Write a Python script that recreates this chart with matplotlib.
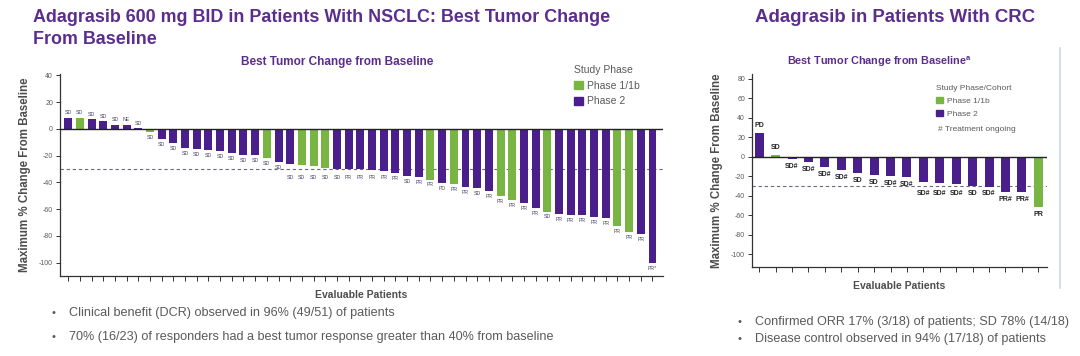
import matplotlib
matplotlib.use("Agg")
import matplotlib.pyplot as plt
from matplotlib.patches import Patch
from matplotlib.lines import Line2D
import numpy as np

plt.rcParams['font.family'] = ['Liberation Sans', 'DejaVu Sans']
plt.rcParams['axes.unicode_minus'] = False

# ---------------- data ----------------
nsclc_values = [8.4, 8.4, 7.0, 5.5, 3.0, 3.0, 0.5, -2.5, -7.5, -10.7, -14.2, -15.0,
                -15.8, -16.5, -18.0, -19.3, -19.8, -21.8, -25.0, -26.0, -27.3, -27.8,
                -29.3, -29.8, -30.0, -30.2, -30.5, -31.8, -33.3, -35.1, -36.1, -37.9,
                -40.5, -41.5, -43.3, -44.0, -46.8, -49.9, -53.4, -55.5, -59.3, -61.8,
                -63.4, -64.1, -64.6, -65.9, -66.9, -72.5, -77.4, -78.4, -100.0]
nsclc_phase = ['2', '1', '2', '2', '2', '2', '2', '1', '2', '2', '2', '2',
               '2', '2', '2', '2', '2', '1', '2', '2', '1', '1',
               '1', '2', '2', '2', '2', '2', '2', '2', '2', '1',
               '2', '1', '2', '2', '2', '1', '1', '2', '2', '1',
               '2', '2', '2', '2', '2', '1', '1', '2', '2']
nsclc_resp = ['SD', 'SD', 'SD', 'SD', 'SD', 'NE', 'SD', 'SD', 'SD', 'SD', 'SD', 'SD',
              'SD', 'SD', 'SD', 'SD', 'SD', 'SD', 'SD', 'SD', 'SD', 'SD',
              'SD', 'SD', 'PR', 'PR', 'PR', 'PR', 'PR', 'SD', 'PR', 'PR',
              'PD', 'PR', 'PR', 'SD', 'PR', 'PR', 'PR', 'PR', 'PR', 'SD',
              'PR', 'PR', 'PR', 'PR', 'PR', 'PR', 'PR', 'PR', 'PR*']

crc_values = [24.8, 2.4, -2.4, -5.1, -10.5, -14.0, -16.3, -19.0, -19.4, -21.0,
              -25.9, -26.9, -28.2, -29.6, -31.0, -36.4, -36.4, -51.7]
crc_phase = ['2', '1', '2', '2', '2', '2', '2', '2', '2', '2',
             '2', '2', '2', '2', '2', '2', '2', '1']
crc_resp = ['PD', 'SD', 'SD#', 'SD#', 'SD#', 'SD#', 'SD', 'SD', 'SD#', 'SD#',
            'SD#', 'SD#', 'SD#', 'SD', 'SD#', 'PR#', 'PR#', 'PR']

y_ticks_nsclc = [40, 20, 0, -20, -40, -60, -80, -100]
y_ticks_crc = [80, 60, 40, 20, 0, -20, -40, -60, -80, -100]
threshold = -30

# ---------------- styles ----------------
PURPLE = '#4a1f8c'
GREEN = '#79b543'
TITLE = '#5b2d8e'
GRAY = '#5a5a5a'
AXC = '#333333'
phase_color = {'1': GREEN, '2': PURPLE}

W, H = 1080, 356
fig = plt.figure(figsize=(W / 100, H / 100), dpi=100)


def fx(px):
    return px / W


def fy(py):
    return 1 - py / H


def style_axes(ax, yticks, ylim, xlim, n):
    ax.set_ylim(*ylim)
    ax.set_xlim(*xlim)
    ax.set_yticks(yticks)
    ax.set_xticks(np.arange(n))
    ax.set_xticklabels([])
    for s in ['top', 'right']:
        ax.spines[s].set_visible(False)
    for s in ['left', 'bottom']:
        ax.spines[s].set_color(AXC)
        ax.spines[s].set_linewidth(0.9)
    ax.tick_params(axis='y', labelsize=5, colors=AXC, labelcolor=GRAY, length=3, width=0.7, pad=2)
    ax.tick_params(axis='x', length=3.5, width=0.7, colors=AXC)
    ax.axhline(0, color='#222222', lw=1.0, zorder=3)
    ax.axhline(threshold, color='#6a6a7a', lw=0.8, ls=(0, (3, 2.5)), zorder=1)


# ---------------- left: NSCLC ----------------
axL = fig.add_axes([fx(60), fy(276), fx(663) - fx(60), fy(74) - fy(276)])
xL = np.arange(len(nsclc_values))
axL.bar(xL, nsclc_values, width=0.68, color=[phase_color[p] for p in nsclc_phase], zorder=2)
style_axes(axL, y_ticks_nsclc, (-110, 41), (-0.7, 50.9), len(nsclc_values))
for x, v, r in zip(xL, nsclc_values, nsclc_resp):
    if v >= 0:
        axL.text(x, v + 1.8, r, ha='center', va='bottom', fontsize=3.8, color='#4a4a6a')
    else:
        top = v - 2.2
        if -34.5 < top < -27.5:
            top = -34.5
        axL.text(x, top, r, ha='center', va='top', fontsize=3.8, color='#4a4a6a')
axL.set_ylabel('Maximum % Change From Baseline', fontsize=8.3, fontweight='bold', color='#4d4d4d', labelpad=6)
axL.set_xlabel('Evaluable Patients', fontsize=7.5, fontweight='bold', color='#4d4d4d', labelpad=3)
axL.text(0.46, 1.06, 'Best Tumor Change from Baseline', transform=axL.transAxes, ha='center',
         va='center', fontsize=8.5, fontweight='bold', color=TITLE)
legL = axL.legend(handles=[Patch(color=GREEN, label='Phase 1/1b'), Patch(color=PURPLE, label='Phase 2')],
                  title='Study Phase', loc='upper left', bbox_to_anchor=(0.845, 1.065), frameon=False,
                  fontsize=7.5, title_fontsize=7.5, handlelength=0.9, handleheight=0.9,
                  handletextpad=0.4, labelspacing=0.55, alignment='left', borderaxespad=0)
legL.get_title().set_color(GRAY)
for t in legL.get_texts():
    t.set_color(GRAY)

# ---------------- right: CRC ----------------
axR = fig.add_axes([fx(752), fy(267), fx(1047) - fx(752), fy(74) - fy(267)])
xR = np.arange(len(crc_values))
axR.bar(xR, crc_values, width=0.55, color=[phase_color[p] for p in crc_phase], zorder=2)
style_axes(axR, y_ticks_crc, (-113, 85), (-0.44, 17.53), len(crc_values))
for x, v, r in zip(xR, crc_values, crc_resp):
    if v >= 0:
        axR.text(x, v + 4, r, ha='center', va='bottom', fontsize=5, fontweight='bold', color='#222222')
    else:
        top = v - 4
        if -36 < top < -26:
            top = -34
        axR.text(x, top, r, ha='center', va='top', fontsize=5, fontweight='bold', color='#222222')
axR.set_ylabel('Maximum % Change From Baseline', fontsize=8.3, fontweight='bold', color='#4d4d4d', labelpad=6)
axR.set_xlabel('Evaluable Patients', fontsize=7.5, fontweight='bold', color='#4d4d4d', labelpad=3)
axR.text(0.43, 1.062, 'Best Tumor Change from Baseline$^{\\mathregular{a}}$', transform=axR.transAxes,
         ha='center', va='center', fontsize=7.8, fontweight='bold', color=TITLE)
legR = axR.legend(handles=[Patch(color=GREEN, label='Phase 1/1b'), Patch(color=PURPLE, label='Phase 2')],
                  title='Study Phase/Cohort', loc='upper left', bbox_to_anchor=(0.614, 0.958), frameon=False,
                  fontsize=6, title_fontsize=6, handlelength=0.8, handleheight=0.8,
                  handletextpad=0.5, labelspacing=0.55, alignment='left', borderaxespad=0)
legR.get_title().set_color(GRAY)
for t in legR.get_texts():
    t.set_color(GRAY)
fig.text(fx(938), fy(129), '# Treatment ongoing', fontsize=6, color=GRAY, ha='left', va='center')

# ---------------- titles ----------------
fig.text(fx(33), fy(18), 'Adagrasib 600 mg BID in Patients With NSCLC: Best Tumor Change',
         fontsize=12.9, fontweight='bold', color=TITLE, ha='left', va='center')
fig.text(fx(33), fy(40), 'From Baseline', fontsize=12.9, fontweight='bold', color=TITLE, ha='left', va='center')
fig.text(fx(755), fy(18), 'Adagrasib in Patients With CRC', fontsize=13.4, fontweight='bold',
         color=TITLE, ha='left', va='center')

# separator
fig.add_artist(Line2D([fx(1060), fx(1060)], [fy(48), fy(288)], transform=fig.transFigure,
                      color='#cdd7e4', lw=1.2))

# ---------------- bullets ----------------
bul_font = ['Liberation Sans Narrow', 'Liberation Sans', 'DejaVu Sans']
bullets = [
    (52, 313, 'Clinical benefit (DCR) observed in 96% (49/51) of patients'),
    (52, 337, '70% (16/23) of responders had a best tumor response greater than 40% from baseline'),
    (738, 322, 'Confirmed ORR 17% (3/18) of patients; SD 78% (14/18)'),
    (738, 339, 'Disease control observed in 94% (17/18) of patients'),
]
for bx, by, txt in bullets:
    fig.text(fx(bx), fy(by), '•', fontsize=8, color=GRAY, ha='left', va='center')
    fig.text(fx(bx + 17), fy(by), txt, fontsize=9.1, color=GRAY, ha='left', va='center', family=bul_font)

fig.savefig('out.png', dpi=100)
